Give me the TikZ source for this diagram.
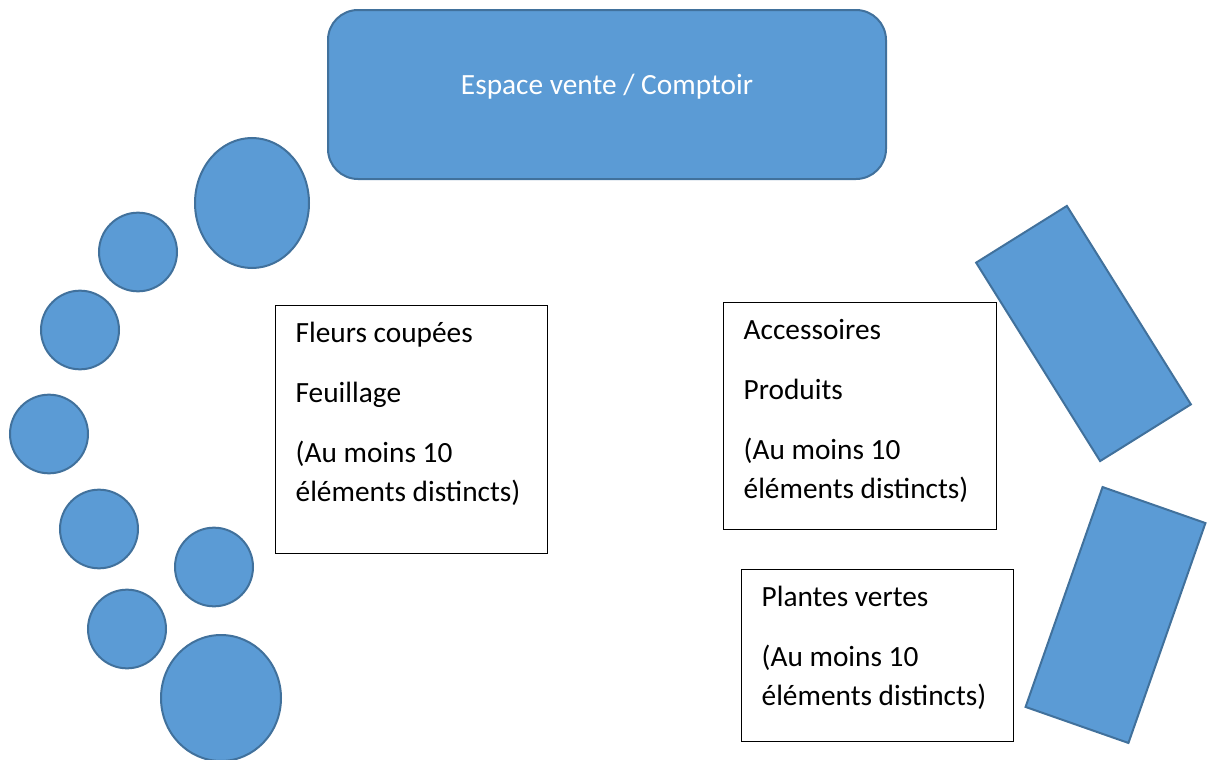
\documentclass[tikz,border=0pt]{standalone}
\usepackage{fontspec}
\setmainfont{Carlito}
\usepackage{tikz}
\usetikzlibrary{shapes.geometric}
\definecolor{plan}{HTML}{5B9BD5}
\definecolor{planline}{HTML}{41719C}
\tikzset{
every node/.style={inner sep=0pt, outer sep=0pt},
pot/.style={ellipse, fill=plan, draw=planline, line width=1.5pt},
shelf/.style={rectangle, fill=plan, draw=planline, line width=1.5pt},
zone/.style={rectangle, draw=black, line width=0.75pt},
zonetext/.style={anchor=north west, align=left, font=\fontsize{22}{29.25}\selectfont}
}

\begin{document}
\begin{tikzpicture}[x=0.75pt, y=-0.75pt]
\useasboundingbox (0,0) rectangle (1208,760);

\node [rectangle, rounded corners=22.5pt, fill=plan, draw=planline, line width=1.5pt,
  minimum width=418.5pt, minimum height=126.75pt,
  label={[anchor=base, yshift=6pt, text=white, font=\fontsize{22}{29.25}\selectfont]center:Espace vente / Comptoir}]
  (comptoir) at (607,94.5) {};

% pots autour des fleurs
\node [pot, minimum width=85.5pt, minimum height=97.5pt] (pot1) at (252,203) {};
\node [pot, minimum width=58.5pt, minimum height=59pt] (pot2) at (138,252) {};
\node [pot, minimum width=58.5pt, minimum height=59pt] (pot3) at (80,330) {};
\node [pot, minimum width=58.5pt, minimum height=59pt] (pot4) at (49,434) {};
\node [pot, minimum width=58.5pt, minimum height=59pt] (pot5) at (99,529) {};
\node [pot, minimum width=58.5pt, minimum height=59pt] (pot6) at (214,567) {};
\node [pot, minimum width=58.5pt, minimum height=59pt] (pot7) at (127,629) {};
\node [pot, minimum width=90pt, minimum height=94.5pt] (pot8) at (221,698) {};

% etageres
\node [shelf, minimum width=175.5pt, minimum height=80.25pt, rotate=-58] (shelfA) at (1083.5,333.5) {};
\node [shelf, minimum width=174.75pt, minimum height=81.75pt, rotate=70.7] (shelfB) at (1115.5,615) {};

% zones
\node [zone, minimum width=204pt, minimum height=186pt] (fleurs) at (411,429) {};
\node [zone, minimum width=204.75pt, minimum height=170.25pt] (accessoires) at (859.5,415.5) {};
\node [zone, minimum width=204pt, minimum height=129pt] (plantes) at (877,655) {};

\node [zonetext] (fleurstxt) at ([xshift=15.5pt, yshift=-8pt]fleurs.north west)
  {\strut Fleurs coupées\\[15.75pt] Feuillage\\[15.75pt] (Au moins 10\\ éléments distincts)};
\node [zonetext] (accessoirestxt) at ([xshift=15.5pt, yshift=-8pt]accessoires.north west)
  {\strut Accessoires\\[15.75pt] Produits\\[15.75pt] (Au moins 10\\ éléments distincts)};
\node [zonetext] (plantestxt) at ([xshift=15.5pt, yshift=-8pt]plantes.north west)
  {\strut Plantes vertes\\[15.75pt] (Au moins 10\\ éléments distincts)};
\end{tikzpicture}
\end{document}
